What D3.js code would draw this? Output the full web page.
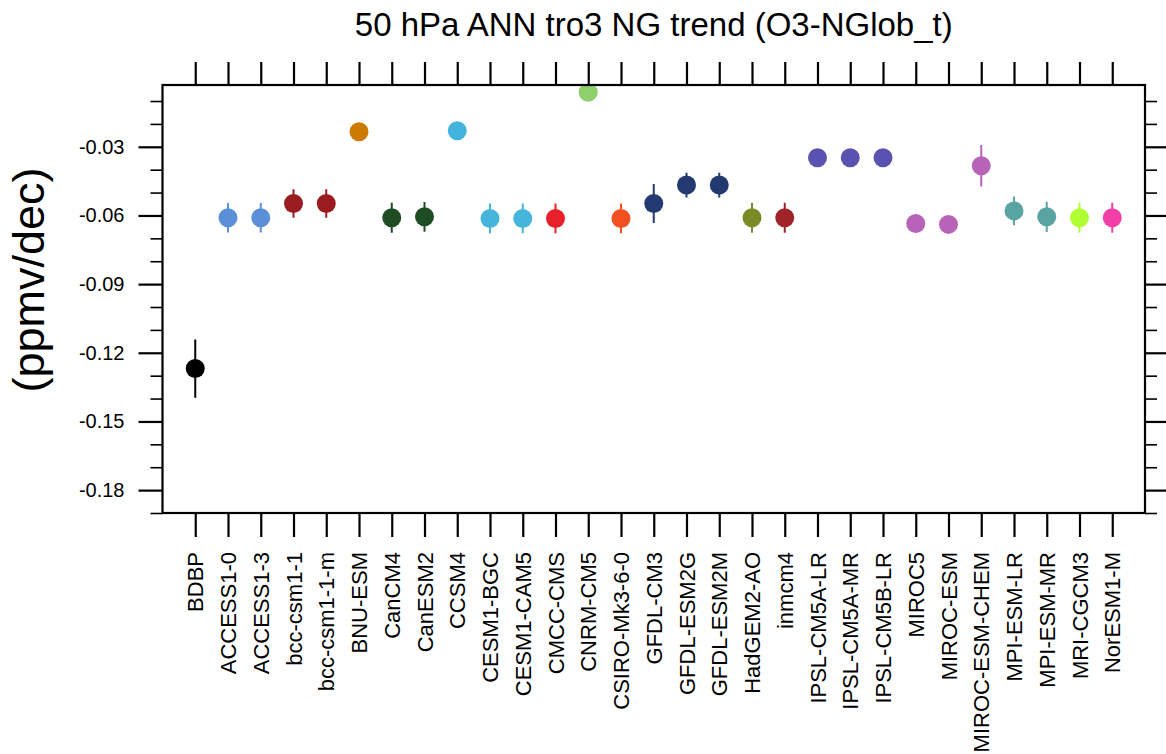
<!DOCTYPE html>
<html>
<head>
<meta charset="utf-8">
<script src="https://cdn.jsdelivr.net/npm/d3@7"></script>
<style>
  html, body { margin: 0; padding: 0; background: #fff; }
  text { font-family: "Liberation Sans", Arial, Helvetica, sans-serif; fill: #000; }
</style>
</head>
<body>
<svg id="chart" width="1166" height="754"></svg>
<script>
// ---- data ----
const title = "50 hPa ANN tro3 NG trend (O3-NGlob_t)";
const yLabel = "(ppmv/dec)";
const models = ["BDBP","ACCESS1-0","ACCESS1-3","bcc-csm1-1","bcc-csm1-1-m","BNU-ESM","CanCM4","CanESM2","CCSM4","CESM1-BGC","CESM1-CAM5","CMCC-CMS","CNRM-CM5","CSIRO-Mk3-6-0","GFDL-CM3","GFDL-ESM2G","GFDL-ESM2M","HadGEM2-AO","inmcm4","IPSL-CM5A-LR","IPSL-CM5A-MR","IPSL-CM5B-LR","MIROC5","MIROC-ESM","MIROC-ESM-CHEM","MPI-ESM-LR","MPI-ESM-MR","MRI-CGCM3","NorESM1-M"];
const trends = [-0.1269,-0.0610,-0.0610,-0.0548,-0.0548,-0.0234,-0.0610,-0.0606,-0.0230,-0.0613,-0.0613,-0.0613,-0.0062,-0.0613,-0.0548,-0.0467,-0.0467,-0.0610,-0.0610,-0.0348,-0.0348,-0.0348,-0.0635,-0.0639,-0.0383,-0.0580,-0.0606,-0.0610,-0.0610];
const errors = [0.0127,0.0064,0.0064,0.0062,0.0062,0.003,0.0065,0.0065,0.003,0.0065,0.0065,0.0065,0.003,0.0065,0.0085,0.0054,0.0054,0.0066,0.0066,0.003,0.003,0.003,0.003,0.003,0.0091,0.0063,0.0066,0.0066,0.0066];
const colors = ["#000000","#5b8fd8","#5b8fd8","#9b1c20","#9b1c20","#cc7a00","#1e4d24","#1e4d24","#42b4de","#45b5dc","#45b5dc","#e8202a","#8ed16c","#f35022","#233a70","#233a70","#233a70","#7a8a25","#a0232a","#5a52b0","#5a52b0","#5a52b0","#b862b8","#b862b8","#b862b8","#5aa3a3","#5aa3a3","#b0ff30","#f23fa8"];
const yDomain = [-0.19, -0.003];
const yMajor = [-0.18,-0.15,-0.12,-0.09,-0.06,-0.03];
const yMinor = [-0.19,-0.17,-0.16,-0.14,-0.13,-0.11,-0.10,-0.08,-0.07,-0.05,-0.04,-0.02,-0.01];

// ---- layout ----
const L = 162.5, R = 1145, T = 85, B = 513;
const svg = d3.select("#chart");

const x = d3.scalePoint().domain(models).range([L, R]).padding(1);
const y = d3.scaleLinear().domain(yDomain).range([B, T]);

svg.append("defs").append("clipPath").attr("id","plotclip")
  .append("rect").attr("x", L).attr("y", T).attr("width", R - L).attr("height", B - T);

// marks
const marks = svg.append("g").attr("clip-path","url(#plotclip)");
models.forEach((m, i) => {
  marks.append("line")
    .attr("x1", x(m)).attr("x2", x(m))
    .attr("y1", y(trends[i] - errors[i])).attr("y2", y(trends[i] + errors[i]))
    .attr("stroke", colors[i]).attr("stroke-width", 2);
  marks.append("circle")
    .attr("cx", x(m)).attr("cy", y(trends[i])).attr("r", 9.5)
    .attr("fill", colors[i]);
});

// axes
const fmt = d => d.toFixed(2);
function styleAxis(g, w) {
  g.select(".domain").remove();
  g.selectAll(".tick line").attr("stroke","#000").attr("stroke-width", w);
}
// left major
const gl = svg.append("g").attr("transform",`translate(${L},0)`)
  .call(d3.axisLeft(y).tickValues(yMajor).tickSize(24).tickPadding(14).tickFormat(fmt));
styleAxis(gl, 2.2);
gl.selectAll(".tick text").attr("font-size", 20).attr("font-family","Liberation Sans, Arial, sans-serif").attr("fill","#000");
// left minor
const glm = svg.append("g").attr("transform",`translate(${L},0)`)
  .call(d3.axisLeft(y).tickValues(yMinor).tickSize(12).tickFormat(""));
styleAxis(glm, 1.6);
// right major/minor
const gr = svg.append("g").attr("transform",`translate(${R},0)`)
  .call(d3.axisRight(y).tickValues(yMajor).tickSize(24).tickFormat(""));
styleAxis(gr, 2.2);
const grm = svg.append("g").attr("transform",`translate(${R},0)`)
  .call(d3.axisRight(y).tickValues(yMinor).tickSize(12).tickFormat(""));
styleAxis(grm, 1.6);
// top
const gt = svg.append("g").attr("transform",`translate(0,${T})`)
  .call(d3.axisTop(x).tickSize(23).tickFormat(""));
styleAxis(gt, 2.2);
// bottom
const gb = svg.append("g").attr("transform",`translate(0,${B})`)
  .call(d3.axisBottom(x).tickSize(24).tickPadding(0));
styleAxis(gb, 2.2);
gb.selectAll(".tick text")
  .attr("font-size", 22).attr("font-family","Liberation Sans, Arial, sans-serif").attr("fill","#000")
  .attr("text-anchor","end").attr("dy","0.35em")
  .attr("transform","translate(0,39) rotate(-90)")
  .attr("x", 0).attr("y", 0);

// frame
svg.append("rect").attr("x", L).attr("y", T).attr("width", R - L).attr("height", B - T)
  .attr("fill","none").attr("stroke","#000").attr("stroke-width", 2.2);

// title
svg.append("text").attr("x", (L + R) / 2).attr("y", 35.5).attr("text-anchor","middle")
  .attr("font-size", 33).text(title);
// y label
svg.append("text").attr("transform","translate(44,280) rotate(-90)").attr("text-anchor","middle")
  .attr("font-size", 45).text(yLabel);
</script>
</body>
</html>
